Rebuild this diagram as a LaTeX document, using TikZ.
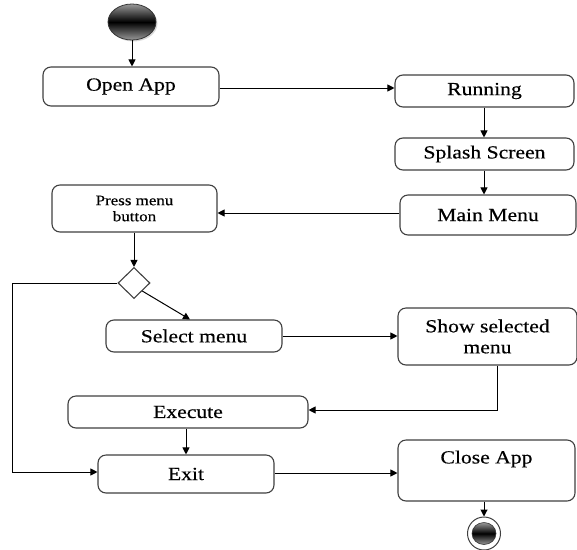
\documentclass[tikz,border=0pt]{standalone}
\usepackage{fontspec}
\setmainfont{Liberation Serif}[FakeStretch=1.17,FakeBold=0.4]
\usetikzlibrary{shapes.geometric,arrows.meta,shadows}
\tikzset{
  box/.style={draw=black!75, line width=1.1pt, rounded corners=8pt, fill=white, inner sep=0pt, align=center, font=\fontsize{18.5}{21}\selectfont},
  flow/.style={draw=black, line width=1pt, -{Triangle[length=7pt,width=7pt]}},
  plain/.style={draw=black, line width=1pt},
}
\begin{document}
\begin{tikzpicture}[x=1pt,y=-1pt]
\useasboundingbox (0,0) rectangle (577,549);
% start
\shade[top color=black!40, bottom color=black!40, middle color=black, draw=black!80, line width=0.8pt, drop shadow={shadow xshift=1.5pt,shadow yshift=-1.5pt,opacity=0.3}] (132,22) ellipse [x radius=24, y radius=18];
\coordinate (start) at (132,40);
\node[box, minimum width=176, minimum height=39] (open) at (131,86.5) {Open App};
\node[box, minimum width=179, minimum height=32] (run) at (484.5,91) {Running};
\node[box, minimum width=179, minimum height=32] (splash) at (484.5,154) {Splash Screen};
\node[box, minimum width=176, minimum height=40] (main) at (488,215) {Main Menu};
\node[box, minimum width=165, minimum height=47, font=\fontsize{14.5}{16}\selectfont] (press) at (134.5,208.5) {Press menu\\button};
\node[draw=black!75, line width=1.1pt, diamond, minimum width=32, minimum height=31, inner sep=0pt, fill=white] (dec) at (134,283) {};
\node[box, minimum width=176, minimum height=32] (sel) at (194,336) {Select menu};
\node[box, minimum width=179, minimum height=57] (show) at (487.5,336.5) {Show selected\\menu};
\node[box, minimum width=240, minimum height=32] (exec) at (188,412) {Execute};
\node[box, minimum width=176, minimum height=38] (exit) at (186,474) {Exit};
\node[box, minimum width=177, minimum height=61] (close) at (486.5,470.5) {};
\node[font=\fontsize{18.5}{21}\selectfont] (closet) at (486.5,459) {Close App};
% end
\node[circle, draw=black!75, line width=1pt, minimum width=33, minimum height=33, inner sep=0pt, fill=white] (end) at (484,533.5) {};
\shade[top color=black!40, bottom color=black!40, middle color=black, draw=black!80, line width=0.6pt] (end.center) ellipse [x radius=12, y radius=11];
% connectors
\draw[flow] (start) -- (open.north -| start);
\draw[flow] (open.east |- 0,88) -- (run.west |- 0,88);
\draw[flow] (run.south -| 484,0) -- (splash.north -| 484,0);
\draw[flow] (splash.south -| 484,0) -- (main.north -| 484,0);
\draw[flow] (main.west |- 0,213) -- (press.east |- 0,213);
\draw[flow] (press.south -| 134,0) -- (dec.north);
\draw[plain, -{Triangle[length=7pt,width=7pt]}] (dec.west) -- (12,283) -- (12,472) -- (exit.west |- 0,472);
\draw[flow] (dec.south east) -- (sel.north -| 190,0);
\draw[flow] (sel.east) -- (show.west |- sel.east);
\draw[flow] (show.south -| 497,0) -- (497,410) -- (exec.east |- 0,410);
\draw[flow] (exec.south -| 186,0) -- (exit.north);
\draw[flow] (exit.east |- 0,473) -- (close.west |- 0,473);
\draw[flow] (close.south -| end) -- (end.north);
\end{tikzpicture}
\end{document}
